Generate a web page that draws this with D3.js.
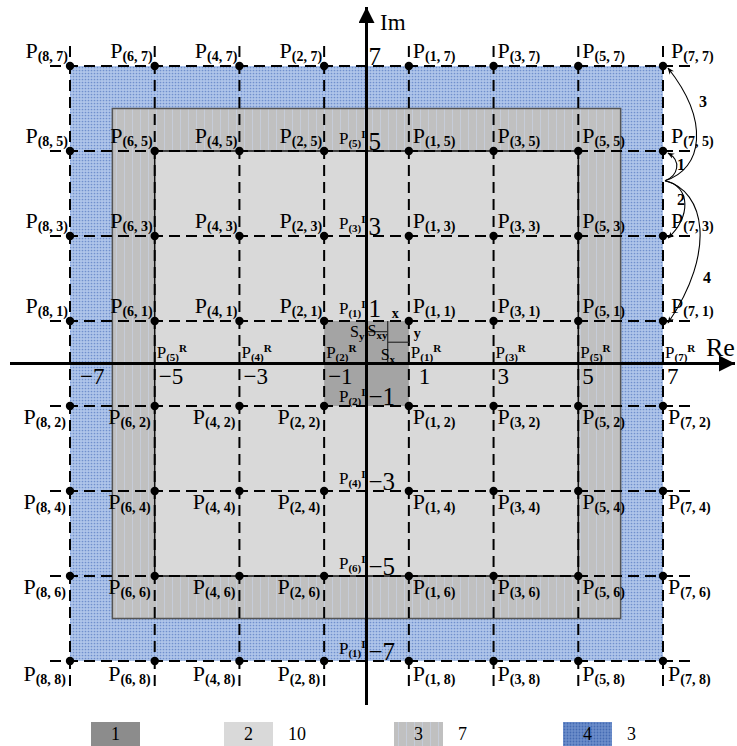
<!DOCTYPE html>
<html>
<head>
<meta charset="utf-8">
<script src="https://cdn.jsdelivr.net/npm/d3@7/dist/d3.min.js"></script>
<style>
  html, body { margin: 0; padding: 0; background: #fff; }
  svg { display: block; font-family: "Liberation Serif", "DejaVu Serif", serif; }
</style>
</head>
<body>
<svg id="chart" width="737" height="746"></svg>
<script>
// Constellation levels on each axis (8x8 grid)
const levels = [-7, -5, -3, -1, 1, 3, 5, 7];
// Index used in the point name P(i, j) for each level
const levelIndex = [8, 6, 4, 2, 1, 3, 5, 7];
// Real-axis component names P(k)^R under each level (null = no name)
const reNames = [null, 5, 4, 2, 1, 3, 5, 7];
// Imag-axis component names P(k)^I beside each level (null = no name)
const imNames = [1, 6, 4, 2, 1, 3, 5, null];
// Nested regions: half-width in level units
const regions = [
  { key: "4", half: 7, fill: "url(#blueDots)", stroke: "none" },
  { key: "3", half: 6, fill: "url(#grayStripes)", stroke: "#555" },
  { key: "2", half: 5, fill: "#d9d9d9", stroke: "#111" },
  { key: "1", half: 1, fill: "#a4a4a4", stroke: "none" }
];
// Legend entries
const legendKeys = ["1", "2", "3", "4"];
const legendCounts = ["", "10", "7", "3"];
// Transition arcs from the right edge to neighbouring points
const arcLabels = ["1", "3", "2", "4"];
const arcTargets = [5, 7, 3, 1];

const svg = d3.select("#chart");
const x = d3.scaleLinear().domain([-7, 7]).range([70, 663]);
const y = d3.scaleLinear().domain([-7, 7]).range([661, 66]);
const ox = x(0), oy = y(0);

const defs = svg.append("defs");
// dotted blue texture
const pb = defs.append("pattern").attr("id", "blueDots").attr("patternUnits", "userSpaceOnUse")
  .attr("width", 3).attr("height", 3);
pb.append("rect").attr("width", 3).attr("height", 3).attr("fill", "#afc5ea");
pb.append("circle").attr("cx", 1.5).attr("cy", 1.5).attr("r", 0.85).attr("fill", "#7090cd");
const pbd = defs.append("pattern").attr("id", "blueDotsDark").attr("patternUnits", "userSpaceOnUse")
  .attr("width", 3).attr("height", 3);
pbd.append("rect").attr("width", 3).attr("height", 3).attr("fill", "#6c8ecb");
pbd.append("circle").attr("cx", 1.5).attr("cy", 1.5).attr("r", 0.9).attr("fill", "#446bb3");
// faint vertical stripes on gray
const pg = defs.append("pattern").attr("id", "grayStripes").attr("patternUnits", "userSpaceOnUse")
  .attr("width", 8).attr("height", 8);
pg.append("rect").attr("width", 8).attr("height", 8).attr("fill", "#c0c0c0");
pg.append("rect").attr("x", 4).attr("width", 1).attr("height", 8).attr("fill", "#c6ccd8");
// arrow heads
defs.append("marker").attr("id", "arrow").attr("viewBox", "0 0 10 10")
  .attr("refX", 9).attr("refY", 5).attr("markerWidth", 7).attr("markerHeight", 7)
  .attr("markerUnits", "userSpaceOnUse").attr("orient", "auto")
  .append("path").attr("d", "M0,1 L10,5 L0,9 L3,5 Z").attr("fill", "#000");
defs.append("marker").attr("id", "axisArrow").attr("viewBox", "0 0 10 10")
  .attr("refX", 10).attr("refY", 5).attr("markerWidth", 24).attr("markerHeight", 16)
  .attr("markerUnits", "userSpaceOnUse").attr("orient", "auto")
  .append("path").attr("d", "M0,0 L10,5 L0,10 Z").attr("fill", "#000");

// regions
svg.append("g").selectAll("rect").data(regions).join("rect")
  .attr("x", d => x(-d.half)).attr("y", d => y(d.half))
  .attr("width", d => x(d.half) - x(-d.half)).attr("height", d => y(-d.half) - y(d.half))
  .attr("fill", d => d.fill).attr("stroke", d => d.stroke).attr("stroke-width", 1.5);

// dashed grid through every level
const grid = svg.append("g").attr("stroke", "#000").attr("stroke-width", 2).attr("stroke-dasharray", "11,6");
grid.selectAll("line.h").data(levels).join("line").attr("class", "h")
  .attr("x1", x(-7) - 20).attr("x2", x(7) + 27).attr("y1", d => y(d)).attr("y2", d => y(d));
grid.selectAll("line.v").data(levels).join("line").attr("class", "v")
  .attr("y1", y(7) - 20).attr("y2", y(-7) + 28).attr("x1", d => x(d)).attr("x2", d => x(d));

// subdivision inside the first-quadrant cell
const sub = svg.append("g").attr("stroke", "#333").attr("stroke-width", 1.3);
sub.append("line").attr("x1", x(0.5)).attr("x2", x(0.5)).attr("y1", y(1)).attr("y2", y(0));
sub.append("line").attr("x1", x(0)).attr("x2", x(0.5)).attr("y1", y(0.75)).attr("y2", y(0.75));
sub.append("line").attr("x1", x(0.5)).attr("x2", x(1)).attr("y1", y(0.5)).attr("y2", y(0.5));

// axes
const axes = svg.append("g").attr("stroke", "#000").attr("stroke-width", 3);
axes.append("line").attr("x1", 10).attr("x2", 735).attr("y1", oy).attr("y2", oy).attr("marker-end", "url(#axisArrow)");
axes.append("line").attr("x1", ox).attr("x2", ox).attr("y1", 705).attr("y2", 7).attr("marker-end", "url(#axisArrow)");
svg.append("text").attr("x", 706).attr("y", 356).attr("font-size", 26).text("Re");
svg.append("text").attr("x", 380).attr("y", 30).attr("font-size", 23).text("Im");

// constellation points
const pts = [];
levels.forEach((vx, i) => levels.forEach((vy, j) => pts.push({ vx, vy, ci: levelIndex[i], ri: levelIndex[j] })));
svg.append("g").selectAll("circle").data(pts).join("circle")
  .attr("cx", d => x(d.vx)).attr("cy", d => y(d.vy)).attr("r", 4.2).attr("fill", "#000");

// point names
function pName(sel, d) {
  sel.append("tspan").attr("font-size", 22).text("P");
  sel.append("tspan").attr("font-size", 14).attr("font-weight", "bold").attr("dy", 3)
    .text(`(${d.ci}, ${d.ri})`);
}
svg.append("g").selectAll("text").data(pts).join("text")
  .attr("x", d => {
    if (d.vx < 0) return x(d.vx) - (d.vy > 0 ? 2 : 4);
    if (d.vx === 7) return x(d.vx) + (d.vy > 0 ? 8 : 5);
    return x(d.vx) + 4;
  })
  .attr("y", d => d.vy > 0 ? y(d.vy) - 8 : y(d.vy) + (d.vy === -7 ? 20 : 18))
  .attr("text-anchor", d => d.vx < 0 ? "end" : "start")
  .each(function (d) { pName(d3.select(this), d); });

// axis numbers
const fmt = v => (v < 0 ? "\u2212" : "") + Math.abs(v);
svg.append("g").selectAll("text").data(levels).join("text")
  .attr("x", d => x(d) + (d === -7 ? 10 : d < 0 ? 4 : d === 1 ? 10 : 4))
  .attr("y", oy + 20).attr("font-size", 23).text(fmt);
svg.append("g").selectAll("text").data(levels).join("text")
  .attr("x", ox + 2).attr("y", d => y(d) - (d === 1 ? 4 : 1)).attr("font-size", 25).text(fmt);

// component names on the axes
function compName(sel, k, sup) {
  sel.append("tspan").attr("font-size", 17).text("P");
  sel.append("tspan").attr("font-size", 11).attr("font-weight", "bold").attr("dy", 3).text(`(${k})`);
  sel.append("tspan").attr("font-size", 11).attr("font-weight", "bold").attr("dy", -9).text(sup);
}
svg.append("g").selectAll("text").data(levels.map((v, i) => ({ v, k: reNames[i] })).filter(d => d.k !== null))
  .join("text").attr("x", d => x(d.v) + 2).attr("y", oy - 6)
  .each(function (d) { compName(d3.select(this), d.k, "R"); });
svg.append("g").selectAll("text").data(levels.map((v, i) => ({ v, k: imNames[i] })).filter(d => d.k !== null))
  .join("text").attr("x", ox - 1).attr("y", d => y(d.v) - (d.v === -1 ? 4 : 7)).attr("text-anchor", "end")
  .each(function (d) { compName(d3.select(this), d.k, "I"); });

// labels inside the subdivided cell
const cellTxt = svg.append("g").attr("font-size", 16);
cellTxt.append("text").attr("x", x(0.5) + 4).attr("y", y(1) - 3).attr("font-weight", "bold").attr("font-size", 14).text("x");
cellTxt.append("text").attr("x", x(1) + 5).attr("y", y(0.75) + 6).attr("font-weight", "bold").attr("font-size", 14).text("y");
const sxy = cellTxt.append("text").attr("x", x(0) + 1).attr("y", y(0.75) + 4);
sxy.append("tspan").text("S"); sxy.append("tspan").attr("font-size", 11).attr("font-weight", "bold").attr("dy", 3).text("xy");
const sy = cellTxt.append("text").attr("x", x(0) - 2).attr("y", y(0.62)).attr("text-anchor", "end");
sy.append("tspan").text("S"); sy.append("tspan").attr("font-size", 11).attr("font-weight", "bold").attr("dy", 3).text("y");
const sx = cellTxt.append("text").attr("x", x(0.5) - 7).attr("y", y(0) - 4);
sx.append("tspan").text("S"); sx.append("tspan").attr("font-size", 11).attr("font-weight", "bold").attr("dy", 3).text("x");

// transition arcs on the right edge
const start = [x(7) + 2, y(4.3)];
const arcShapes = {
  5: { c1: [start[0] + 13, start[1] - 5], c2: [start[0] + 17, y(5) + 10], lab: [677, 170] },
  7: { c1: [start[0] + 38, start[1] - 12], c2: [start[0] + 45, y(7) + 55], lab: [699, 107] },
  3: { c1: [start[0] + 26, start[1] + 5], c2: [start[0] + 26, y(3) - 18], lab: [677, 205] },
  1: { c1: [start[0] + 40, start[1] + 10], c2: [start[0] + 52, y(1) - 70], lab: [703, 283] }
};
const arcs = svg.append("g");
arcTargets.forEach((t, i) => {
  const s = arcShapes[t];
  const p = d3.path();
  p.moveTo(start[0], start[1]);
  p.bezierCurveTo(s.c1[0], s.c1[1], s.c2[0], s.c2[1], x(7) + 5, y(t) + 2);
  arcs.append("path").attr("d", p.toString()).attr("fill", "none").attr("stroke", "#000")
    .attr("stroke-width", 1.1).attr("marker-end", "url(#arrow)");
  arcs.append("text").attr("x", s.lab[0]).attr("y", s.lab[1]).attr("font-size", 16)
    .attr("font-weight", "bold").text(arcLabels[i]);
});

// legend
const legendX = [91, 224, 394, 563];
const legendFill = ["#8c8c8c", "#d9d9d9", "url(#grayStripes)", "url(#blueDotsDark)"];
const lg = svg.append("g").selectAll("g").data(legendKeys).join("g")
  .attr("transform", (d, i) => `translate(${legendX[i]},722)`);
lg.append("rect").attr("width", 49).attr("height", 24).attr("fill", (d, i) => legendFill[i]);
lg.append("text").attr("x", 24.5).attr("y", 18).attr("text-anchor", "middle").attr("font-size", 18).text(d => d);
lg.append("text").attr("x", 64).attr("y", 18).attr("font-size", 18).text((d, i) => legendCounts[i]);
</script>
</body>
</html>
